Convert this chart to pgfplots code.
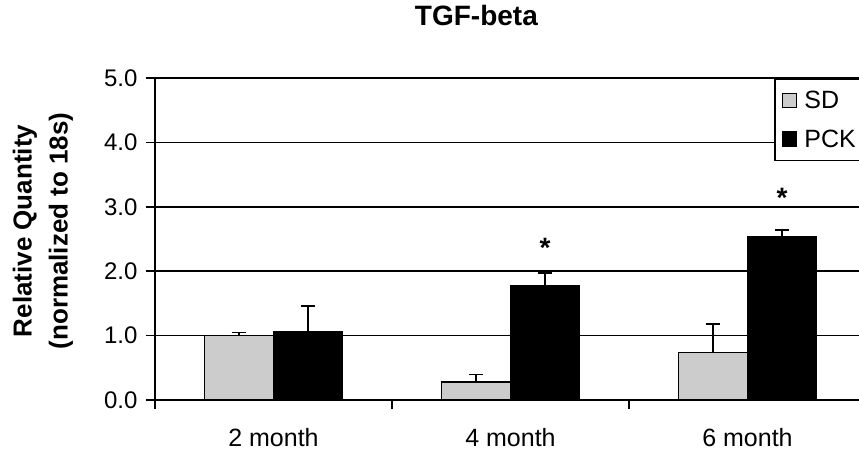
\documentclass[border=0pt]{standalone}
\usepackage{fontspec}
\setmainfont{Liberation Sans}
\usepackage{pgfplots}
\pgfplotsset{compat=1.18}
\definecolor{sdgray}{RGB}{204,204,204}

\begin{document}
\begin{tikzpicture}
\begin{axis}[
  at={(0,0)}, anchor=south west,
  scale only axis, width=711pt, height=322pt,
  xmin=-0.5, xmax=2.5, ymin=0, ymax=5,
  axis x line*=bottom, axis y line*=left,
  axis line style={line width=1.5pt, black, -},
  ybar=0pt, bar width=69pt,
  tick align=outside,
  major tick length=9pt,
  tick style={line width=1.5pt, black},
  xtick={-0.5,0.5,1.5,2.5},
  xticklabels={},
  extra x ticks={0,1,2},
  extra x tick labels={2 month,4 month,6 month},
  extra x tick style={major tick length=0pt, tick style={draw=none},
    xticklabel style={font=\fontsize{25}{30}\selectfont, yshift=-25pt}},
  ytick={0,1,2,3,4,5},
  yticklabel style={font=\fontsize{24}{29}\selectfont, xshift=-5pt},
  /pgf/number format/assume math mode=true,
  yticklabel={\pgfmathprintnumber[fixed,fixed zerofill,precision=1]{\tick}},
  ymajorgrids,
  grid style={line width=1.5pt, black},
  title={TGF-beta},
  title style={at={(axis description cs:0.452,1.174)}, anchor=center, font=\fontsize{28}{34}\selectfont\bfseries},
  ylabel={Relative Quantity\\(normalized to 18s)},
  ylabel style={at={(axis description cs:-0.1575,0.525)}, anchor=center, align=center, font=\fontsize{26}{36}\selectfont\bfseries},
  legend style={at={(axis description cs:0.8706,1)}, anchor=north west, draw=black, line width=1.5pt, fill=white,
    font=\fontsize{25}{30}\selectfont, inner xsep=7pt, inner ysep=10pt, row sep=16pt},
  legend cell align=left,
  error bars/y dir=plus,
  error bars/y explicit,
  error bars/error bar style={line width=1.4pt, black},
  error bars/error mark options={rotate=90, mark size=7pt, line width=1.4pt, black},
]
\addplot[fill=sdgray, draw=black, line width=1.4pt,
  legend image code/.code={\draw[fill=sdgray, draw=black, line width=1.4pt] (0pt,-7pt) rectangle (14pt,7pt); \path[draw=none, fill=none] (0pt,0pt) -- (20pt,0pt);}]
  coordinates {(0,1.00) +- (0,0.05) (1,0.28) +- (0,0.12) (2,0.74) +- (0,0.44)};
\addlegendentry{SD}
\addplot[fill=black, draw=black, line width=1.4pt,
  legend image code/.code={\draw[fill=black, draw=black, line width=1.4pt] (0pt,-7pt) rectangle (14pt,7pt); \path[draw=none, fill=none] (0pt,0pt) -- (20pt,0pt);}]
  coordinates {(0,1.06) +- (0,0.40) (1,1.77) +- (0,0.20) (2,2.53) +- (0,0.11)};
\addlegendentry{PCK}
\node[font=\fontsize{28}{34}\selectfont\bfseries] at ([xshift=34.5pt]axis cs:1,2.37) {*};
\node[font=\fontsize{28}{34}\selectfont\bfseries] at ([xshift=34.5pt]axis cs:2,3.14) {*};
\end{axis}
\pgfresetboundingbox
\path[use as bounding box] (-155pt,-56pt) rectangle (704pt,400pt);
\end{tikzpicture}
\end{document}
